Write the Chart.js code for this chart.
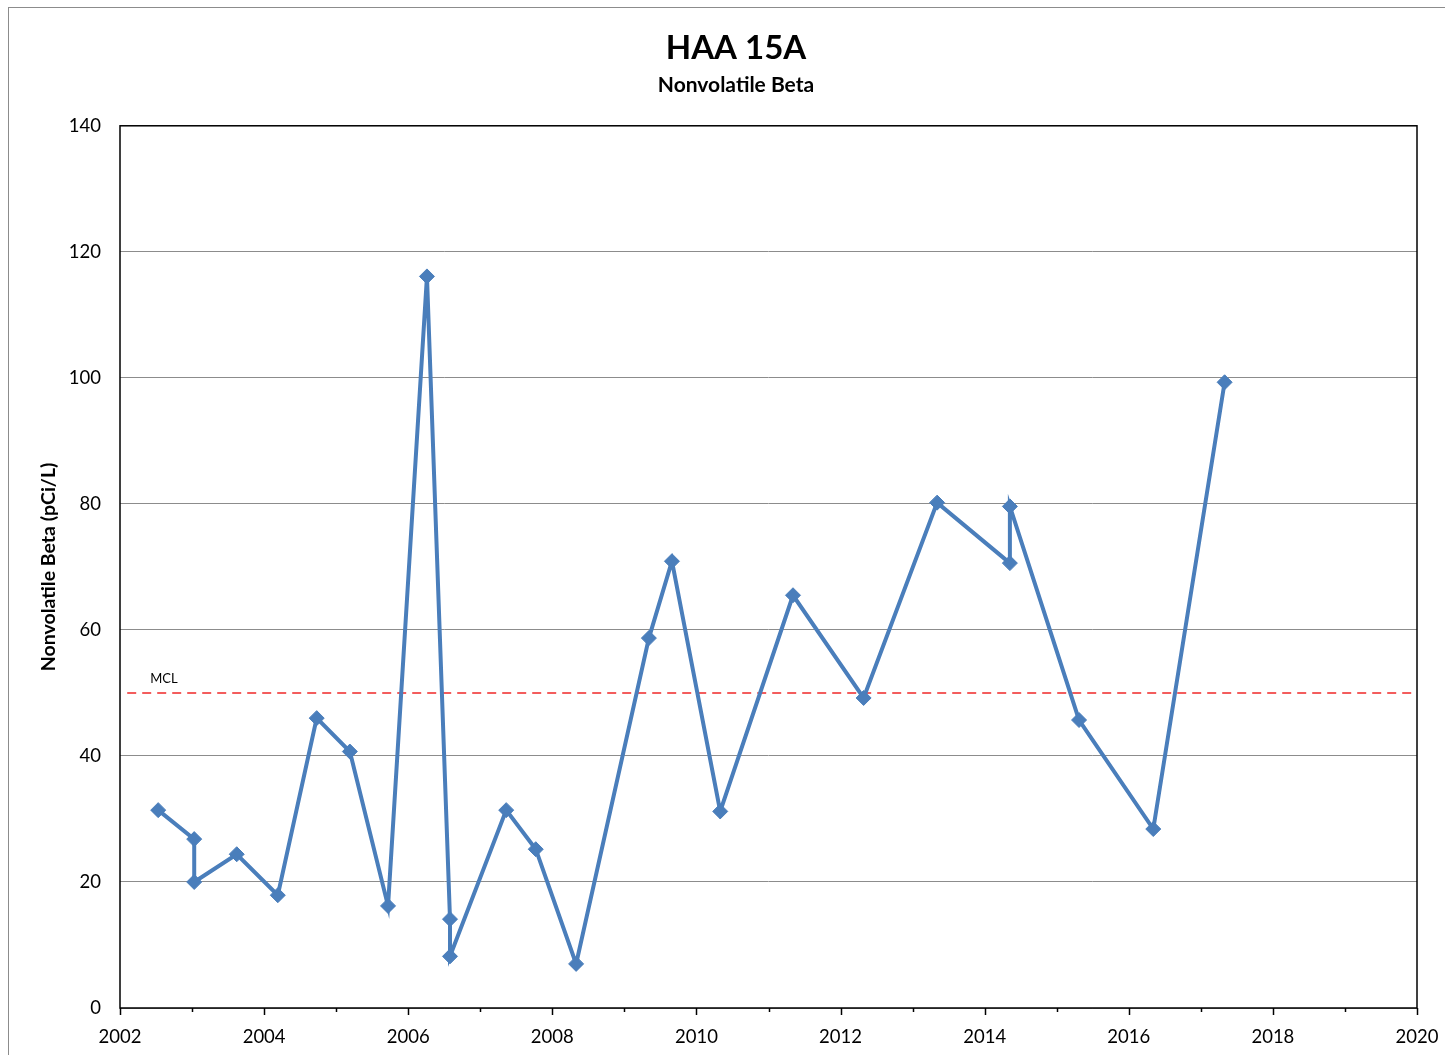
<!DOCTYPE html>
<html>
<head>
<meta charset="utf-8">
<script src="https://cdn.jsdelivr.net/npm/chart.js@4.4.1/dist/chart.umd.min.js"></script>
<style>
  html, body { margin: 0; padding: 0; background: #fff; }
  #wrap { width: 1445px; height: 1055px; position: relative; }
</style>
</head>
<body>
<div id="wrap"><canvas id="haa-chart" width="1445" height="1055"></canvas></div>
<script>
// sample dates as decimal years, values in pCi/L
const sampleDates = [
  2002.53, 2003.03, 2003.03, 2003.62, 2004.19, 2004.73, 2005.19, 2005.72,
  2006.26, 2006.58, 2006.58, 2007.36, 2007.77, 2008.33, 2009.34, 2009.66,
  2010.33, 2011.34, 2012.32, 2013.34, 2014.35, 2014.35, 2015.31, 2016.34, 2017.33
];
const betaValues = [
  31.4, 26.8, 20.0, 24.4, 17.9, 46.0, 40.7, 16.2,
  116.1, 14.1, 8.2, 31.4, 25.2, 7.0, 58.7, 70.9,
  31.2, 65.5, 49.2, 80.2, 70.6, 79.6, 45.7, 28.4, 99.3
];
const mclValue = 50;
const mclRange = [2002.1, 2020];
const yearTicks = [2002, 2004, 2006, 2008, 2010, 2012, 2014, 2016, 2018, 2020];

const FONT = 'Lato, "Open Sans", sans-serif';
const BLUE = '#4a7ebb';

const frame = {
  id: 'frame',
  beforeDraw(chart) {
    const ctx = chart.ctx;
    ctx.save();
    ctx.strokeStyle = '#8c8c8c';
    ctx.lineWidth = 1;
    ctx.strokeRect(8.5, 7.5, 1460, 1100);
    ctx.restore();
  },
  beforeDatasetsDraw(chart) {
    const { ctx, chartArea: a, scales } = chart;
    ctx.save();
    ctx.strokeStyle = '#000';
    ctx.lineWidth = 1.5;
    ctx.strokeRect(a.left, a.top, a.right - a.left, a.bottom - a.top);
    // year ticks below the x axis, long on even years
    for (let yr = 2002; yr <= 2020; yr++) {
      const px = Math.round(scales.x.getPixelForValue(yr)) + 0.5;
      const len = yr % 2 === 0 ? 7 : 4;
      ctx.beginPath();
      ctx.moveTo(px, a.bottom);
      ctx.lineTo(px, a.bottom + len);
      ctx.stroke();
    }
    // MCL label
    ctx.fillStyle = '#000';
    ctx.font = '13px ' + FONT;
    ctx.textBaseline = 'bottom';
    ctx.fillText('MCL', scales.x.getPixelForValue(2002.42), scales.y.getPixelForValue(mclValue) - 8);
    ctx.restore();
  }
};

new Chart(document.getElementById('haa-chart').getContext('2d'), {
  type: 'scatter',
  data: {
    datasets: [
      {
        label: 'Nonvolatile Beta',
        data: sampleDates.map((d, i) => ({ x: d, y: betaValues[i] })),
        showLine: true,
        borderColor: BLUE,
        borderWidth: 4,
        backgroundColor: BLUE,
        pointStyle: 'rectRot',
        pointRadius: 7.5,
        pointBorderWidth: 1,
        pointBorderColor: BLUE,
        pointBackgroundColor: BLUE,
        order: 1
      },
      {
        label: 'MCL',
        data: mclRange.map(d => ({ x: d, y: mclValue })),
        showLine: true,
        borderColor: '#f02828',
        borderWidth: 1.5,
        borderDash: [9, 6],
        pointRadius: 0,
        order: 2
      }
    ]
  },
  options: {
    responsive: false,
    animation: false,
    layout: { padding: { left: 27, right: 0, top: 0, bottom: 0 } },
    plugins: {
      legend: { display: false },
      tooltip: { enabled: false },
      title: {
        display: true,
        text: 'HAA 15A',
        color: '#000',
        font: { family: FONT, size: 33, weight: 'bold' },
        padding: { top: 29, bottom: 4 }
      },
      subtitle: {
        display: true,
        text: 'Nonvolatile Beta',
        color: '#000',
        font: { family: FONT, size: 21, weight: 'bold' },
        padding: { top: 0, bottom: 28 }
      }
    },
    scales: {
      x: {
        type: 'linear',
        min: 2002,
        max: 2020,
        afterBuildTicks: (s) => { s.ticks = yearTicks.map(v => ({ value: v })); },
        afterFit: (s) => { s.height = 47; s.paddingLeft = 0; s.paddingRight = 0; },
        grid: { display: false },
        border: { display: false },
        ticks: {
          color: '#000',
          font: { family: FONT, size: 18.5 },
          padding: 10,
          maxRotation: 0,
          autoSkip: false,
          callback: (v) => String(v)
        }
      },
      y: {
        min: 0,
        max: 140,
        afterFit: (s) => { s.width = 93; s.paddingTop = 0; s.paddingBottom = 0; },
        grid: { color: '#8c8c8c', lineWidth: 1, drawTicks: false },
        border: { display: false },
        ticks: {
          stepSize: 20,
          color: '#000',
          font: { family: FONT, size: 18.5 },
          padding: 19
        },
        title: {
          display: true,
          text: 'Nonvolatile Beta (pCi/L)',
          color: '#000',
          font: { family: FONT, size: 19.5, weight: 'bold' },
          padding: { top: 10, bottom: 0 }
        }
      },
      // empty right-hand axis that only reserves the margin
      yRight: {
        position: 'right',
        afterFit: (s) => { s.width = 28; s.paddingTop = 0; s.paddingBottom = 0; },
        grid: { display: false },
        border: { display: false },
        ticks: { display: false }
      }
    }
  },
  plugins: [frame]
});
</script>
</body>
</html>
